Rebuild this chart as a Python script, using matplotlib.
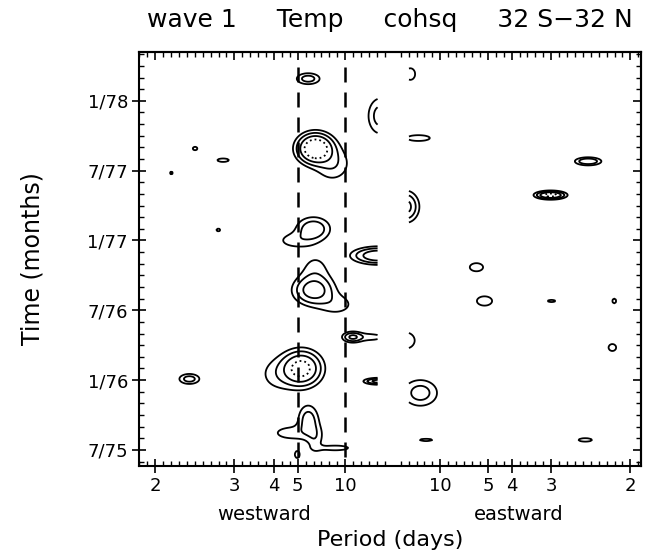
import numpy as np
import matplotlib
matplotlib.use("Agg")
import matplotlib.pyplot as plt

## -----------------------------------------------
# data
## -----------------------------------------------
# frequency (cycles/day, westward < 0), time in months since 7/75
# each coherence blob: centre, half width of the 0.5 contour, peak value
blob_freq = [-0.178, -0.163, -0.127, -0.416, -0.357, -0.466, -0.367,
             -0.167, -0.205, -0.167, -0.163, -0.119, -0.085, -0.052,
             -0.192, -0.241, -0.178, -0.212, -0.163, -0.121, -0.428,
             -0.026, -0.030, -0.030, -0.201,
             0.037, 0.054, 0.026, 0.332, 0.411, 0.176, 0.193, 0.334,
             0.466, 0.026, 0.462, 0.058, 0.070, 0.405]
blob_month = [31.9, 25.9, 24.6, 25.9, 24.9, 23.8, 18.9,
              19.0, 18.0, 13.7, 15.3, 12.5, 9.7, 9.7,
              7.0, 6.5, 2.6, 1.46, 0.9, 0.17, 6.1,
              28.7, 16.7, 5.9, -0.4,
              32.3, 26.8, 20.9, 21.9, 24.8, 15.7, 12.8, 12.8,
              12.8, 9.4, 8.8, 4.9, 0.86, 0.86]
blob_hw_freq = [0.024, 0.047, 0.030, 0.005, 0.012, 0.003, 0.004,
                0.035, 0.025, 0.045, 0.020, 0.025, 0.020, 0.025,
                0.050, 0.025, 0.020, 0.030, 0.010, 0.027, 0.021,
                0.025, 0.060, 0.032, 0.005,
                0.010, 0.024, 0.030, 0.036, 0.028, 0.014, 0.016, 0.008,
                0.004, 0.020, 0.008, 0.035, 0.013, 0.014]
blob_hw_month = [0.47, 1.6, 1.2, 0.15, 0.15, 0.12, 0.12,
                 1.0, 0.45, 1.3, 1.0, 0.6, 0.45, 0.25,
                 1.8, 0.9, 1.2, 0.45, 0.8, 0.2, 0.43,
                 1.5, 0.8, 0.3, 0.3,
                 0.5, 0.25, 1.4, 0.4, 0.35, 0.35, 0.4, 0.1,
                 0.2, 0.7, 0.3, 1.1, 0.1, 0.15]
blob_peak = [0.65, 0.92, 0.60, 0.52, 0.53, 0.51, 0.51,
             0.68, 0.55, 0.75, 0.55, 0.55, 0.70, 0.55,
             0.85, 0.55, 0.65, 0.55, 0.55, 0.58, 0.65,
             0.65, 0.80, 0.75, 0.53,
             0.55, 0.60, 0.75, 0.85, 0.70, 0.55, 0.55, 0.52,
             0.52, 0.55, 0.55, 0.65, 0.52, 0.55]

levels_solid = [0.5, 0.6, 0.7]
levels_dot = [0.8]

period_ticks = [-0.5, -1/3, -0.25, -0.2, -0.1, 0.1, 0.2, 0.25, 1/3, 0.5]
period_labels = ["2", "3", "4", "5", "10", "10", "5", "4", "3", "2"]
time_ticks = [0, 6, 12, 18, 24, 30]
time_labels = ["7/75", "1/76", "7/76", "1/77", "7/77", "1/78"]

## -----------------------------------------------
# build coherence field
## -----------------------------------------------
freq = np.arange(-0.5, 0.5 + 1e-9, 0.003)
month = np.arange(-1.0, 34.0, 0.08)
F, M = np.meshgrid(freq, month)
acc = np.zeros_like(F)
p = 4  # soft union of the blobs
for f0, m0, hf, hm, pk in zip(blob_freq, blob_month, blob_hw_freq,
                              blob_hw_month, blob_peak):
    k = np.sqrt(2 * np.log(pk / 0.5))
    sf, sm = hf / k, hm / k
    g = pk * np.exp(-0.5 * ((F - f0) / sf) ** 2 - 0.5 * ((M - m0) / sm) ** 2)
    acc += g ** p
Z = acc ** (1 / p)
# no estimate near zero frequency
Z[:, (freq > -0.0305) & (freq < 0.0325)] = np.nan

## -----------------------------------------------
# plot
## -----------------------------------------------
fig = plt.figure(figsize=(6.48, 5.58), dpi=100)
ax = fig.add_axes([0.2145, 0.1649, 0.7745, 0.742])

ax.contour(F, M, Z, levels=levels_solid, colors="k", linewidths=1.3,
           linestyles="solid")
ax.contour(F, M, Z, levels=levels_dot, colors="k", linewidths=1.3,
           linestyles="dotted")

for fv in [-0.2, -0.1]:
    ax.plot([fv, fv], [-0.6, 33.3], color="k", lw=1.8, ls=(0, (6, 4)))

ax.set_xlim(-0.534, 0.522)
ax.set_ylim(-1.38, 34.2)

minor_x = [k / 60 for k in range(-32, 32) if k != 0]
minor_y = np.arange(-1, 35, 1)

ax.set_xticks(period_ticks)
ax.set_xticklabels(period_labels, fontsize=13)
ax.set_xticks(minor_x, minor=True)
ax.set_yticks(time_ticks)
ax.set_yticklabels(time_labels, fontsize=13)
ax.set_yticks(minor_y, minor=True)

ax.tick_params(which="major", direction="inout", length=10, width=1.2, pad=3)
ax.tick_params(which="minor", direction="in", length=3.5, width=1.0)

# inward ticks on the top and right frame
top = ax.secondary_xaxis("top")
top.set_xticks(period_ticks)
top.set_xticks(minor_x, minor=True)
top.tick_params(which="major", direction="in", length=6, width=1.2,
                labeltop=False)
top.tick_params(which="minor", direction="in", length=3.5, width=1.0)
right = ax.secondary_yaxis("right")
right.set_yticks(time_ticks)
right.set_yticks(minor_y, minor=True)
right.tick_params(which="major", direction="in", length=6, width=1.2,
                  labelright=False)
right.tick_params(which="minor", direction="in", length=3.5, width=1.0)

for a in [ax, top, right]:
    for sp in a.spines.values():
        sp.set_linewidth(1.5)

ax.set_title("wave 1     Temp     cohsq     32 S\u221232 N", fontsize=18, pad=18)
ax.set_ylabel("Time (months)", fontsize=17, labelpad=31)
ax.set_xlabel("Period (days)", fontsize=16, labelpad=25)
ax.text(-0.27, -0.116, "westward", transform=ax.get_xaxis_transform(),
        ha="center", va="center", fontsize=14)
ax.text(0.265, -0.116, "eastward", transform=ax.get_xaxis_transform(),
        ha="center", va="center", fontsize=14)

fig.savefig("out.png", dpi=100)
